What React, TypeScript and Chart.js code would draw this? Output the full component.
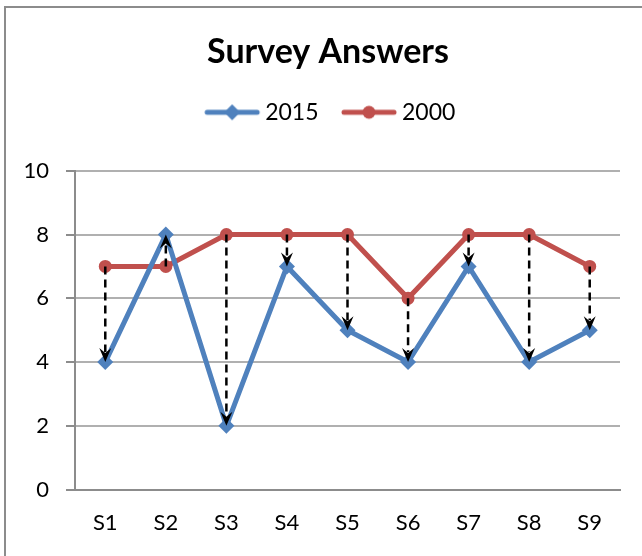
import React, { useEffect, useRef } from "react";
import { Chart, registerables } from "chart.js";

Chart.register(...registerables);

const categories = ["S1", "S2", "S3", "S4", "S5", "S6", "S7", "S8", "S9"];
const values2015 = [4, 8, 2, 7, 5, 4, 7, 4, 5];
const values2000 = [7, 7, 8, 8, 8, 6, 8, 8, 7];
const yTicks = [0, 2, 4, 6, 8, 10];
const titleText = "Survey Answers";
const seriesNames = ["2015", "2000"];

const BLUE = "#4F81BD";
const RED = "#C0504D";
const FONT = "Lato, 'Open Sans', sans-serif";

function legendImage(color: string, style: "diamond" | "circle") {
  const c = document.createElement("canvas");
  c.width = 68;
  c.height = 18;
  const ctx = c.getContext("2d")!;
  ctx.strokeStyle = color;
  ctx.lineWidth = 5;
  ctx.lineCap = "round";
  ctx.beginPath();
  ctx.moveTo(14, 9);
  ctx.lineTo(64, 9);
  ctx.stroke();
  ctx.fillStyle = color;
  ctx.beginPath();
  const cx = 39;
  if (style === "diamond") {
    ctx.moveTo(cx, 1);
    ctx.lineTo(cx + 8, 9);
    ctx.lineTo(cx, 17);
    ctx.lineTo(cx - 8, 9);
    ctx.closePath();
  } else {
    ctx.arc(cx, 9, 6.5, 0, Math.PI * 2);
  }
  ctx.fill();
  return c;
}

const arrowPlugin = {
  id: "arrows",
  beforeLayout(chart: any) {
    const lg = chart.legend;
    if (lg && !lg.__patched) {
      const orig = lg.fit;
      lg.fit = function () {
        orig.call(this);
        this.height += 37;
      };
      lg.__patched = true;
    }
  },
  afterLayout(chart: any) {
    const dx = 13;
    const boxes = [chart.titleBlock, chart.legend];
    for (const b of boxes) {
      if (b) {
        b.left += dx;
        b.right += dx;
      }
    }
  },
  afterDatasetsDraw(chart: any) {
    const { ctx } = chart;
    const xs = chart.scales.x;
    const ys = chart.scales.y;
    ctx.save();
    for (let i = 0; i < categories.length; i++) {
      const x = xs.getPixelForValue(i);
      const yFrom = ys.getPixelForValue(values2000[i]);
      const yTo = ys.getPixelForValue(values2015[i]);
      const dir = yTo > yFrom ? 1 : -1;
      const head = 14;
      const halfW = 6;
      ctx.strokeStyle = "#000";
      ctx.lineWidth = 2.5;
      ctx.setLineDash([8, 5]);
      ctx.beginPath();
      ctx.moveTo(x, yFrom);
      ctx.lineTo(x, yTo - dir * (head - 4));
      ctx.stroke();
      ctx.setLineDash([]);
      ctx.fillStyle = "#000";
      ctx.beginPath();
      ctx.moveTo(x, yTo);
      ctx.lineTo(x - halfW, yTo - dir * head);
      ctx.lineTo(x, yTo - dir * (head - 5));
      ctx.lineTo(x + halfW, yTo - dir * head);
      ctx.closePath();
      ctx.fill();
    }
    ctx.restore();
  },
};

export default function App() {
  const ref = useRef<HTMLCanvasElement | null>(null);

  useEffect(() => {
    if (!ref.current) return;
    const imgs = [legendImage(BLUE, "diamond"), legendImage(RED, "circle")];
    const chart = new Chart(ref.current, {
      type: "line",
      data: {
        labels: categories,
        datasets: [
          {
            label: seriesNames[0],
            data: values2015,
            borderColor: BLUE,
            backgroundColor: BLUE,
            borderWidth: 5,
            pointStyle: "rectRot",
            pointRadius: 8,
            pointBorderWidth: 0,
            pointBackgroundColor: BLUE,
            tension: 0,
          },
          {
            label: seriesNames[1],
            data: values2000,
            borderColor: RED,
            backgroundColor: RED,
            borderWidth: 5,
            pointStyle: "circle",
            pointRadius: 6.5,
            pointBorderWidth: 0,
            pointBackgroundColor: RED,
            tension: 0,
          },
        ],
      },
      options: {
        animation: false,
        responsive: false,
        maintainAspectRatio: false,
        layout: { padding: { left: 10, right: 22, top: 10, bottom: 0 } },
        plugins: {
          title: {
            display: true,
            text: titleText,
            color: "#000",
            font: { family: FONT, size: 34, weight: "bold" },
            padding: { top: 22, bottom: 9 },
          },
          legend: {
            display: true,
            position: "top",
            labels: {
              color: "#000",
              font: { family: FONT, size: 23 },
              usePointStyle: true,
              pointStyleWidth: 53,
              padding: 19,
              generateLabels: () =>
                seriesNames.map((n, i) => ({
                  text: n,
                  pointStyle: imgs[i] as any,
                  fillStyle: "transparent",
                  strokeStyle: "transparent",
                  lineWidth: 0,
                  datasetIndex: i,
                  hidden: false,
                })),
            },
          },
          tooltip: { enabled: false },
        },
        scales: {
          x: {
            type: "category",
            offset: true,
            grid: { display: false, drawTicks: false },
            border: { display: true, color: "#8c8c8c", width: 2 },
            ticks: {
              color: "#000",
              font: { family: FONT, size: 22 },
              padding: 20,
            },
          },
          y: {
            min: 0,
            max: 10,
            afterBuildTicks: (scale: any) => {
              scale.ticks = yTicks.map((v) => ({ value: v }));
            },
            afterFit: (scale: any) => {
              scale.width = 65;
            },
            grid: {
              color: "#b0b0b0",
              lineWidth: 2,
              drawTicks: true,
              tickLength: 9,
              tickColor: "#8c8c8c",
            },
            border: { display: true, color: "#8c8c8c", width: 2 },
            ticks: {
              color: "#000",
              font: { family: FONT, size: 22 },
              padding: 17,
            },
          },
        },
      },
      plugins: [arrowPlugin],
    });
    return () => chart.destroy();
  }, []);

  return (
    <div style={{ position: "absolute", left: 0, top: 0, width: 642, height: 556, background: "#fff", overflow: "hidden" }}>
      <div
        style={{
          position: "absolute",
          left: 4,
          top: 6,
          width: 660,
          height: 580,
          border: "2px solid #8c8c8c",
          boxSizing: "border-box",
        }}
      />
      <canvas ref={ref} width={642} height={556} style={{ position: "absolute", left: 0, top: 0 }} />
    </div>
  );
}
